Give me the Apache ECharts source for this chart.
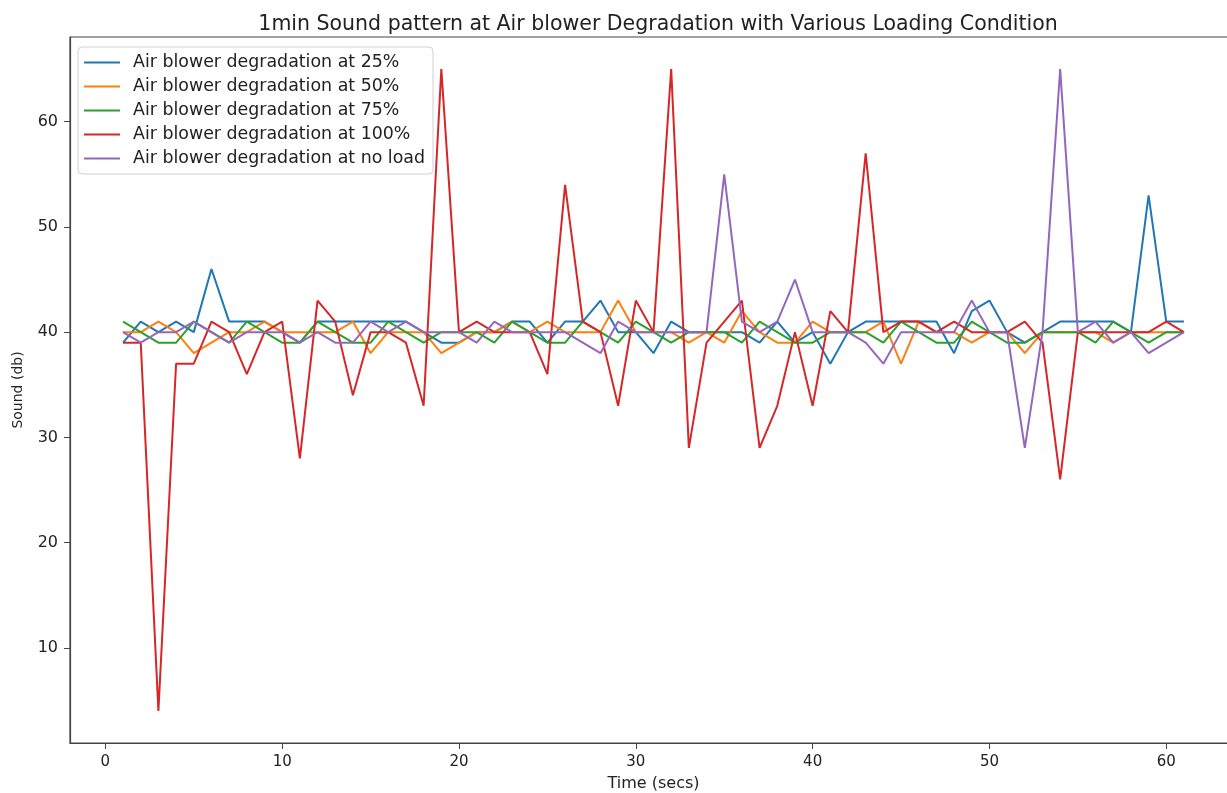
<!DOCTYPE html>
<html lang="en">
<head>
    <meta charset="UTF-8">
    <title>1min Sound pattern</title>
    <script src="https://cdn.jsdelivr.net/npm/echarts@6/dist/echarts.min.js"></script>
    <style>
        html, body { margin: 0; padding: 0; background: #fff; overflow: hidden; }
    </style>
</head>
<body>
    <div id="chart" style="width: 1237px; height: 793px;"></div>

    <script>
        // time axis (secs)
        const timeSecs = [1, 2, 3, 4, 5, 6, 7, 8, 9, 10, 11, 12, 13, 14, 15, 16, 17, 18, 19, 20,
            21, 22, 23, 24, 25, 26, 27, 28, 29, 30, 31, 32, 33, 34, 35, 36, 37, 38, 39, 40,
            41, 42, 43, 44, 45, 46, 47, 48, 49, 50, 51, 52, 53, 54, 55, 56, 57, 58, 59, 60, 61];

        const load25 = [39, 41, 40, 41, 40, 46, 41, 41, 41, 40, 39, 41, 41, 41, 41, 41, 41, 40, 39, 39,
            40, 40, 41, 41, 39, 41, 41, 43, 40, 40, 38, 41, 40, 40, 40, 40, 39, 41, 39, 40,
            37, 40, 41, 41, 41, 41, 41, 38, 42, 43, 40, 39, 40, 41, 41, 41, 41, 40, 53, 41, 41];

        const load50 = [40, 40, 41, 40, 38, 39, 40, 40, 41, 40, 40, 40, 40, 41, 38, 40, 40, 40, 38, 39,
            40, 40, 41, 40, 41, 40, 40, 40, 43, 40, 40, 40, 39, 40, 39, 42, 40, 39, 39, 41,
            40, 40, 40, 41, 37, 41, 40, 40, 39, 40, 40, 38, 40, 40, 40, 40, 39, 40, 40, 40, 40];

        const load75 = [41, 40, 39, 39, 41, 40, 39, 41, 40, 39, 39, 41, 40, 39, 39, 41, 40, 39, 40, 40,
            40, 39, 41, 40, 39, 39, 41, 40, 39, 41, 40, 39, 40, 40, 40, 39, 41, 40, 39, 39,
            40, 40, 40, 39, 41, 40, 39, 39, 41, 40, 39, 39, 40, 40, 40, 39, 41, 40, 39, 40, 40];

        const load100 = [39, 39, 4, 37, 37, 41, 40, 36, 40, 41, 28, 43, 41, 34, 40, 40, 39, 33, 65, 40,
            41, 40, 40, 40, 36, 54, 41, 40, 33, 43, 40, 65, 29, 39, 41, 43, 29, 33, 40, 33,
            42, 40, 57, 40, 41, 41, 40, 41, 40, 40, 40, 41, 39, 26, 40, 40, 40, 40, 40, 41, 40];

        const noLoad = [40, 39, 40, 40, 41, 40, 39, 40, 40, 40, 39, 40, 39, 39, 41, 40, 41, 40, 40, 40,
            39, 41, 40, 40, 40, 40, 39, 38, 41, 40, 40, 40, 40, 40, 55, 41, 40, 41, 45, 40,
            40, 40, 39, 37, 40, 40, 40, 40, 43, 40, 40, 29, 40, 65, 40, 41, 39, 40, 38, 39, 40];

        const seriesNames = [
            'Air blower degradation at 25%',
            'Air blower degradation at 50%',
            'Air blower degradation at 75%',
            'Air blower degradation at 100%',
            'Air blower degradation at no load'
        ];
        const seriesValues = [load25, load50, load75, load100, noLoad];
        const colors = ['#1f77b4', '#ff7f0e', '#2ca02c', '#d62728', '#9467bd'];

        const xTicks = [0, 10, 20, 30, 40, 50, 60];
        const yTicks = [10, 20, 30, 40, 50, 60];

        const font = 'DejaVu Sans';

        const chart = echarts.init(document.getElementById('chart'));
        chart.setOption({
            animation: false,
            color: colors,
            title: {
                text: '1min Sound pattern at Air blower Degradation with Various Loading Condition',
                left: 653,
                textAlign: 'center',
                top: 9,
                textStyle: { fontFamily: font, fontSize: 20.5, fontWeight: 'normal', color: '#222' }
            },
            legend: {
                orient: 'vertical',
                left: 78,
                top: 47,
                icon: 'rect',
                itemWidth: 36,
                itemHeight: 2,
                itemGap: 7,
                padding: [7, 8, 7, 6],
                backgroundColor: '#fff',
                borderColor: '#d0d0d0',
                borderWidth: 1,
                borderRadius: 4,
                textStyle: { fontFamily: font, fontSize: 17.4, color: '#222', padding: [0, 0, 0, 8] }
            },
            grid: {
                left: 70,
                right: 0,
                top: 37,
                bottom: 50,
                outerBoundsMode: 'none',
                show: true,
                borderColor: '#444',
                borderWidth: 1.2
            },
            xAxis: {
                type: 'value',
                min: -2,
                max: 64,
                name: 'Time (secs)',
                nameLocation: 'middle',
                nameGap: 33,
                nameTextStyle: { fontFamily: font, fontSize: 16, color: '#222' },
                axisLine: { show: true, onZero: false, lineStyle: { color: '#444', width: 1.2 } },
                axisTick: { show: true, length: 6, customValues: xTicks, lineStyle: { color: '#444' } },
                axisLabel: { customValues: xTicks, fontFamily: font, fontSize: 15, color: '#222', margin: 12 },
                splitLine: { show: false }
            },
            yAxis: {
                type: 'value',
                min: 0.95,
                max: 68.05,
                name: 'Sound (db)',
                nameLocation: 'middle',
                nameGap: 45,
                nameTextStyle: { fontFamily: font, fontSize: 14, color: '#222' },
                axisLine: { show: true, onZero: false, lineStyle: { color: '#444', width: 1.2 } },
                axisTick: { show: true, length: 6, customValues: yTicks, lineStyle: { color: '#444' } },
                axisLabel: { customValues: yTicks, fontFamily: font, fontSize: 16, color: '#222', margin: 12 },
                splitLine: { show: false }
            },
            series: seriesNames.map((name, k) => ({
                name: name,
                type: 'line',
                symbol: 'none',
                lineStyle: { width: 2 },
                data: timeSecs.map((t, i) => [t, seriesValues[k][i]])
            }))
        });
    </script>
</body>
</html>
